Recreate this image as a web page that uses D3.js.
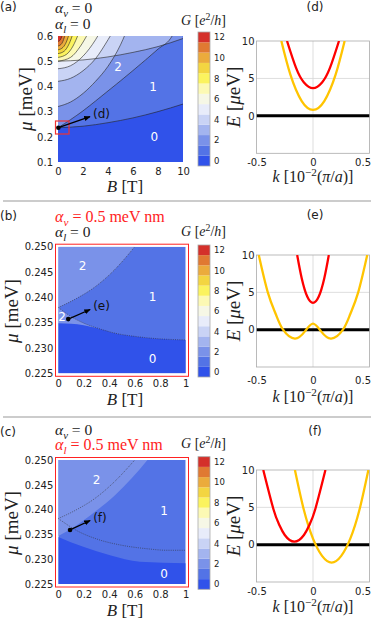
<!DOCTYPE html>
<html>
<head>
<meta charset="utf-8">
<script src="https://cdn.jsdelivr.net/npm/d3@7"></script>
<style>
  body { margin: 0; background: #fff; }
  svg text { font-family: "DejaVu Sans", sans-serif; }
</style>
</head>
<body>
<svg id="fig" width="374" height="620"></svg>
<script>
// ---- data ----

// conductance colour levels 0..12 (e^2/h)
const gLevels = d3.range(0, 13);
const gColors = ['#3052ea', '#5373e6', '#7a92e9', '#a3b4ef', '#c9d3f5', '#e8ecfa', '#f6f7e6',
                 '#fcf9b4', '#fbf35e', '#f3d541', '#ebab3c', '#e07932', '#d4302a'];
const cbTicks = [0, 2, 4, 6, 8, 10, 12];

// panel (a): subband edges mu(B), each one raises G by one when crossed
const aEdges = [
  [[0, 0.236], [2, 0.242], [4, 0.256], [6, 0.275], [8, 0.300], [10, 0.330]],
  [[0, 0.236], [1, 0.268], [2, 0.303], [3, 0.342], [4, 0.382], [5, 0.422], [6, 0.463], [7, 0.505], [8, 0.548], [9, 0.590], [9.25, 0.61]],
  [[0, 0.320], [1, 0.338], [2, 0.372], [3, 0.420], [4, 0.480], [5, 0.565], [5.4, 0.61]],
  [[0, 0.420], [1, 0.432], [2, 0.462], [3, 0.510], [4, 0.585], [4.3, 0.61]],
  [[0, 0.470], [1, 0.482], [2, 0.520], [3, 0.585], [3.3, 0.61]],
  [[0, 0.500], [2, 0.505], [4, 0.517], [6, 0.535], [8, 0.558], [10, 0.590]],
  [[0, 0.500], [1, 0.515], [1.8, 0.560], [2.4, 0.61]],
  [[0, 0.515], [0.7, 0.528], [1.2, 0.560], [1.65, 0.61]],
  [[0, 0.530], [0.5, 0.540], [0.9, 0.570], [1.2, 0.61]],
  [[0, 0.545], [0.4, 0.555], [0.7, 0.580], [0.9, 0.61]],
  [[0, 0.560], [0.3, 0.570], [0.6, 0.61]],
  [[0, 0.578], [0.2, 0.586], [0.38, 0.61]]
];
const aTicksB = [0, 2, 4, 6, 8, 10];
const aTicksMu = [0.1, 0.2, 0.3, 0.4, 0.5, 0.6];
const aLabels = [{ t: '0', B: 7.7, mu: 0.200 }, { t: '1', B: 7.6, mu: 0.400 }, { t: '2', B: 4.8, mu: 0.478 }];
const aArrow = { from: [0.03, 0.236], to: [2.56, 0.280] };

// panels (b), (c): zoom on B in [0,1], mu in [0.225,0.25]
const zTicksB = [0, 0.2, 0.4, 0.6, 0.8, 1];
const zTicksMu = [0.225, 0.230, 0.235, 0.240, 0.245, 0.250];

// (b) alpha_v = 0.5 meV nm
const bUpperEdge = [[0, 0.2380], [0.13, 0.2396], [0.29, 0.2421], [0.44, 0.2454], [0.60, 0.2500]];
const bLowerEdge = [[0, 0.2380], [0.1, 0.2362], [0.2, 0.2349], [0.31, 0.2339], [0.45, 0.2329], [0.63, 0.2322], [0.8, 0.2318], [1, 0.2316]];
const bZeroEdge = [[0, 0.2349], [0.1, 0.2348], [0.2, 0.2345], [0.31, 0.2339], [0.45, 0.2329], [0.63, 0.2322], [0.8, 0.2318], [1, 0.2316]];
const bLabels = [{ t: '2', B: 0.19, mu: 0.2462 }, { t: '1', B: 0.74, mu: 0.2401 }, { t: '0', B: 0.74, mu: 0.2278 }, { t: '2', B: 0.03, mu: 0.2361 }];
const bArrow = { from: [0.078, 0.2357], to: [0.25, 0.2376] };

// (c) alpha_l = 0.5 meV nm
const cUpperEdge = [[0, 0.2382], [0.13, 0.2398], [0.29, 0.2423], [0.44, 0.2456], [0.60, 0.2500]];
const cLowerEdge = [[0, 0.2382], [0.15, 0.2357], [0.31, 0.2340], [0.5, 0.2328], [0.7, 0.2321], [0.85, 0.2318], [1, 0.2318]];
const cTwoEdge = [[0, 0.2347], [0.13, 0.2366], [0.29, 0.2396], [0.445, 0.2429], [0.576, 0.2463], [0.706, 0.2502]];
const cZeroEdge = [[0, 0.2345], [0.196, 0.2325], [0.406, 0.2308], [0.64, 0.2295], [1, 0.2292]];
const cLabels = [{ t: '2', B: 0.30, mu: 0.2460 }, { t: '1', B: 0.83, mu: 0.2398 }, { t: '0', B: 0.83, mu: 0.2270 }];
const cArrow = { from: [0.092, 0.2359], to: [0.25, 0.2378] };

// (d), (e), (f): dispersions E(k), k in 1e-2 pi/a, E in ueV
const kTicks = [-0.5, 0, 0.5];
const eTicks = [0, 5, 10];
const dYellow = [[-0.28, 10], [-0.2, 5.5], [-0.1, 1.97], [0, 0.8], [0.1, 1.97], [0.2, 5.5], [0.28, 10]];
const dRed = [[-0.23, 10], [-0.15, 6.4], [-0.08, 4.45], [0, 3.7], [0.08, 4.45], [0.15, 6.4], [0.23, 10]];
const eYellow = [[-0.48, 10], [-0.40, 5], [-0.33, 2.1], [-0.265, 0], [-0.16, -1.2], [-0.07, -0.2], [0, 0.8],
                 [0.07, -0.2], [0.16, -1.2], [0.265, 0], [0.33, 2.1], [0.40, 5], [0.48, 10]];
const eRed = [[-0.14, 10], [-0.1, 6.9], [-0.05, 4.4], [0, 3.6], [0.05, 4.4], [0.1, 6.9], [0.14, 10]];
const fYellow = [[-0.16, 10], [-0.08, 4.6], [0, 0.8], [0.08, -1.5], [0.165, -2.4], [0.25, -1.5], [0.33, 0.8], [0.41, 4.6], [0.49, 10]];
const fRed = [[-0.44, 10], [-0.35, 4.75], [-0.3, 2.7], [-0.25, 1.3], [-0.165, 0.4], [-0.08, 1.3], [-0.03, 2.7], [0.02, 4.75], [0.11, 10]];

// ---- drawing ----
const svg = d3.select('#fig');
svg.append('rect').attr('width', 374).attr('height', 620).attr('fill', '#fff');
const defs = svg.append('defs');
defs.append('marker')
  .attr('id', 'arr').attr('viewBox', '0 0 10 10').attr('refX', 9).attr('refY', 5)
  .attr('markerWidth', 5).attr('markerHeight', 5).attr('orient', 'auto')
  .append('path').attr('d', 'M0,1L10,5L0,9Z').attr('fill', '#000');

const SERIF = '"Liberation Serif", "DejaVu Serif", serif';

// math-like text built from tspans: kind = r | i, optional sub/sup
function tex(sel, x, y, parts, size, anchor, color) {
  const t = sel.append('text').attr('x', x).attr('y', y)
    .style('font-family', SERIF).attr('font-size', size)
    .attr('text-anchor', anchor || 'start').attr('fill', color || '#222');
  let shift = 0;
  parts.forEach(([s, kind]) => {
    const ts = t.append('tspan').text(s);
    const target = kind.includes('sub') ? size * 0.28 : kind.includes('sup') ? -size * 0.38 : 0;
    ts.attr('dy', target - shift);
    shift = target;
    if (kind.startsWith('i')) ts.attr('font-style', 'italic');
    if (target !== 0) ts.attr('font-size', size * 0.7);
  });
  return t;
}

function panelLabel(x, y, s) {
  svg.append('text').attr('x', x).attr('y', y).attr('font-size', 12).attr('fill', '#222').text(s);
}

function styleAxis(g, size) {
  g.select('.domain').remove();
  g.selectAll('text').style('font-family', '"DejaVu Sans", sans-serif').attr('font-size', size).attr('fill', '#222');
}

function colorbar(x, top, bottom) {
  const cb = d3.scaleLinear().domain([-0.5, 12.5]).range([bottom, top]);
  const g = svg.append('g');
  g.selectAll('rect').data(gLevels).join('rect')
    .attr('x', x).attr('width', 12)
    .attr('y', d => cb(d + 0.5)).attr('height', d => cb(d - 0.5) - cb(d + 0.5))
    .attr('fill', d => gColors[d]);
  g.append('rect').attr('x', x).attr('y', top).attr('width', 12).attr('height', bottom - top)
    .attr('fill', 'none').attr('stroke', '#aaa').attr('stroke-width', 0.8);
  const ax = g.append('g').attr('transform', `translate(${x + 12},0)`)
    .call(d3.axisRight(cb).tickValues(cbTicks).tickSize(0).tickPadding(4));
  styleAxis(ax, 8.5);
}

function gTitle(xEnd, y) {
  tex(svg, xEnd, y, [['G', 'i'], [' [', 'r'], ['e', 'i'], ['2', 'rsup'], ['/', 'r'], ['h', 'i'], [']', 'r']], 14, 'end');
}

function clipRect(id, x0, y0, x1, y1) {
  defs.append('clipPath').attr('id', id).append('rect')
    .attr('x', x0).attr('y', y0).attr('width', x1 - x0).attr('height', y1 - y0);
}

function arrow(g, xs, ys, a, label) {
  g.append('line')
    .attr('x1', xs(a.from[0])).attr('y1', ys(a.from[1]))
    .attr('x2', xs(a.to[0])).attr('y2', ys(a.to[1]))
    .attr('stroke', '#000').attr('stroke-width', 1.3).attr('marker-end', 'url(#arr)');
  g.append('circle').attr('cx', xs(a.from[0])).attr('cy', ys(a.from[1])).attr('r', 2.3).attr('fill', '#000');
  g.append('text').attr('x', xs(a.to[0]) + 3).attr('y', ys(a.to[1]) + 1)
    .attr('font-size', 12).attr('fill', '#111').text(label);
}

function regionLabels(g, xs, ys, labels) {
  g.selectAll(null).data(labels).join('text')
    .attr('x', d => xs(d.B)).attr('y', d => ys(d.mu)).attr('dy', '0.36em')
    .attr('text-anchor', 'middle').attr('font-size', 12).attr('fill', '#fff')
    .text(d => d.t);
}

// ===== panel (a) =====
const xA = d3.scaleLinear().domain([0, 10]).range([58, 183]);
const yA = d3.scaleLinear().domain([0.1, 0.6]).range([162, 36]);
clipRect('clipA', 58, 36, 183, 162);
const gA = svg.append('g');
const fillA = gA.append('g').attr('clip-path', 'url(#clipA)');
const linesA = gA.append('g').attr('clip-path', 'url(#clipA)');
const lineA = d3.line().x(d => xA(d[0])).y(d => yA(d[1])).curve(d3.curveMonotoneX);

// draw the edges, then sample the drawn curves to know mu(B) on a grid
const aSamples = aEdges.map(edge => {
  const node = linesA.append('path').attr('d', lineA(edge))
    .attr('fill', 'none').attr('stroke', '#222').attr('stroke-width', 0.6).node();
  const len = node.getTotalLength();
  const pts = [];
  for (let s = 0; s <= len; s += 0.4) {
    const p = node.getPointAtLength(s);
    pts.push([xA.invert(p.x), yA.invert(p.y)]);
  }
  return pts;
});
const bis = d3.bisector(d => d[0]).left;
function edgeMu(pts, B) {
  if (B < pts[0][0] || B > pts[pts.length - 1][0]) return Infinity;
  const i = bis(pts, B);
  if (i === 0) return pts[0][1];
  const p0 = pts[i - 1], p1 = pts[i];
  const t = (B - p0[0]) / ((p1[0] - p0[0]) || 1);
  return p0[1] + t * (p1[1] - p0[1]);
}
const nx = 250, ny = 250;
const colMu = aSamples.map(pts => d3.range(nx).map(i => edgeMu(pts, (i + 0.5) / nx * 10)));
const gridG = new Array(nx * ny);
for (let j = 0; j < ny; j++) {
  const mu = 0.1 + (j + 0.5) / ny * 0.5;
  for (let i = 0; i < nx; i++) {
    let n = 0;
    colMu.forEach(c => { if (c[i] < mu) n++; });
    gridG[j * nx + i] = n;
  }
}
const gridPath = d3.geoPath(d3.geoTransform({
  point: function (x, y) { this.stream.point(xA(x / nx * 10), yA(0.1 + y / ny * 0.5)); }
}));
fillA.append('rect').attr('x', 58).attr('y', 36).attr('width', 125).attr('height', 126).attr('fill', gColors[0]);
const contA = d3.contours().size([nx, ny]).thresholds(d3.range(0.5, 12.5, 1))(gridG);
fillA.selectAll('path').data(contA).join('path')
  .attr('d', gridPath).attr('fill', (d, i) => gColors[i + 1]);

regionLabels(gA, xA, yA, aLabels);
gA.append('rect').attr('x', 55.5).attr('y', 121).attr('width', 13.5).attr('height', 13)
  .attr('fill', 'none').attr('stroke', '#e33').attr('stroke-width', 1.2);
arrow(gA, xA, yA, aArrow, '(d)');
styleAxis(gA.append('g').attr('transform', 'translate(0,162)')
  .call(d3.axisBottom(xA).tickValues(aTicksB).tickFormat(d3.format('d')).tickSize(0).tickPadding(5.5)), 10);
styleAxis(gA.append('g').attr('transform', 'translate(58,0)')
  .call(d3.axisLeft(yA).tickValues(aTicksMu).tickFormat(d3.format('.1f')).tickSize(0).tickPadding(5)), 10);
tex(svg, 125, 192, [['B', 'i'], [' [T]', 'r']], 17, 'middle');
tex(svg.append('g').attr('transform', 'translate(32,99) rotate(-90)'), 0, 0, [['μ', 'i'], [' [meV]', 'r']], 19, 'middle');
panelLabel(0, 11, '(a)');
tex(svg, 55, 13, [['α', 'i'], ['v', 'isub'], [' = 0', 'r']], 15.5);
tex(svg, 55, 28.5, [['α', 'i'], ['l', 'isub'], [' = 0', 'r']], 15.5);
gTitle(226, 25);
colorbar(198, 32, 166);

// ===== panels (b) and (c) =====
function zoomPanel(opt) {
  const xs = d3.scaleLinear().domain([0, 1]).range([58.3, 185.7]);
  const ys = d3.scaleLinear().domain([0.225, 0.25]).range([opt.y0, opt.y1]);
  const id = 'clip' + opt.name;
  clipRect(id, 58.3, opt.y1, 185.7, opt.y0);
  const g = svg.append('g');
  const fill = g.append('g').attr('clip-path', `url(#${id})`);
  const line = d3.line().x(d => xs(d[0])).y(d => ys(d[1])).curve(d3.curveMonotoneX);
  fill.append('rect').attr('x', 58.3).attr('y', opt.y1).attr('width', 127.4).attr('height', opt.y0 - opt.y1)
    .attr('fill', gColors[1]);
  opt.regions.forEach(r => {
    fill.append('path').attr('d', line(r.edge) + r.close.map(p => `L${xs(p[0])},${ys(p[1])}`).join('') + 'Z')
      .attr('fill', gColors[r.level]);
  });
  opt.dotted.forEach(e => {
    fill.append('path').attr('d', line(e)).attr('fill', 'none')
      .attr('stroke', '#333').attr('stroke-width', 0.6).attr('stroke-dasharray', '1,1.2');
  });
  regionLabels(g, xs, ys, opt.labels);
  arrow(g, xs, ys, opt.arrow, opt.arrowLabel);
  g.append('rect').attr('x', 55.5).attr('y', opt.y1 - 2.5).attr('width', 133).attr('height', opt.y0 - opt.y1 + 5.5)
    .attr('fill', 'none').attr('stroke', '#f22').attr('stroke-width', 1);
  styleAxis(g.append('g').attr('transform', `translate(0,${opt.y0})`)
    .call(d3.axisBottom(xs).tickValues(zTicksB).tickFormat(d => (d === 0 || d === 1) ? d : d.toFixed(1))
      .tickSize(0).tickPadding(opt.xPad)), 10);
  styleAxis(g.append('g').attr('transform', 'translate(58.3,0)')
    .call(d3.axisLeft(ys).tickValues(zTicksMu).tickFormat(d3.format('.3f')).tickSize(0).tickPadding(5)), 10);
  tex(svg, 125, opt.bLabelY, [['B', 'i'], [' [T]', 'r']], 17, 'middle');
  tex(svg.append('g').attr('transform', `translate(18,${(opt.y0 + opt.y1) / 2 + 1}) rotate(-90)`), 0, 0,
    [['μ', 'i'], [' [meV]', 'r']], 19, 'middle');
}

panelLabel(0, 220, '(b)');
tex(svg, 55, 221.5, [['α', 'i'], ['v', 'isub'], [' = 0.5 meV nm', 'r']], 16, 'start', '#f22');
tex(svg, 55, 237, [['α', 'i'], ['l', 'isub'], [' = 0', 'r']], 15.5);
gTitle(226, 236);
zoomPanel({
  name: 'B', y0: 373.3, y1: 246.7, xPad: 7, bLabelY: 405,
  regions: [
    { edge: bUpperEdge, close: [[0, 0.25]], level: 2 },
    { edge: bLowerEdge, close: [[1, 0.225], [0, 0.225]], level: 2 },
    { edge: bZeroEdge, close: [[1, 0.225], [0, 0.225]], level: 0 }
  ],
  dotted: [bUpperEdge, bLowerEdge],
  labels: bLabels, arrow: bArrow, arrowLabel: '(e)'
});
colorbar(198, 245, 377);

panelLabel(0, 436, '(c)');
tex(svg, 55, 435, [['α', 'i'], ['v', 'isub'], [' = 0', 'r']], 15.5);
tex(svg, 55, 450, [['α', 'i'], ['l', 'isub'], [' = 0.5 meV nm', 'r']], 16, 'start', '#f22');
gTitle(226, 448);
zoomPanel({
  name: 'C', y0: 584, y1: 460, xPad: 7, bLabelY: 616,
  regions: [
    { edge: cTwoEdge, close: [[0, 0.25]], level: 2 },
    { edge: cZeroEdge, close: [[1, 0.225], [0, 0.225]], level: 0 }
  ],
  dotted: [cUpperEdge, cLowerEdge],
  labels: cLabels, arrow: cArrow, arrowLabel: '(f)'
});
colorbar(198, 456.7, 589.3);

// ===== panels (d), (e), (f) =====
function bandPanel(opt) {
  const xs = d3.scaleLinear().domain([-0.5, 0.5]).range([256.5, 369.5]);
  const ys = d3.scaleLinear().domain([-5, 10]).range([opt.y0, opt.y1]);
  const id = 'clip' + opt.name;
  clipRect(id, 256.5, opt.y1, 369.5, opt.y0);
  const g = svg.append('g');
  const grid = g.append('g');
  grid.selectAll(null).data([0]).join('line')
    .attr('x1', d => xs(d)).attr('x2', d => xs(d)).attr('y1', opt.y1).attr('y2', opt.y0)
    .attr('stroke', '#d4d4d4').attr('stroke-width', 0.8);
  grid.selectAll(null).data([5]).join('line')
    .attr('y1', d => ys(d)).attr('y2', d => ys(d)).attr('x1', 256.5).attr('x2', 369.5)
    .attr('stroke', '#d4d4d4').attr('stroke-width', 0.8);
  g.append('rect').attr('x', 256.5).attr('y', opt.y1).attr('width', 113).attr('height', opt.y0 - opt.y1)
    .attr('fill', 'none').attr('stroke', '#aaa').attr('stroke-width', 0.8);
  const plot = g.append('g').attr('clip-path', `url(#${id})`);
  const line = d3.line().x(d => xs(d[0])).y(d => ys(d[1])).curve(d3.curveNatural);
  plot.append('line').attr('x1', xs(-0.5)).attr('x2', xs(0.5)).attr('y1', ys(0)).attr('y2', ys(0))
    .attr('stroke', '#000').attr('stroke-width', 3);
  plot.append('path').attr('d', line(opt.yellow)).attr('fill', 'none').attr('stroke', '#ffc400').attr('stroke-width', 2.3);
  plot.append('path').attr('d', line(opt.red)).attr('fill', 'none').attr('stroke', '#f00').attr('stroke-width', 2.3);
  const xa = g.append('g').attr('transform', `translate(0,${opt.y0})`)
    .call(d3.axisBottom(xs).tickValues(kTicks).tickFormat(d => d === 0 ? '0' : d.toFixed(1)).tickSize(0).tickPadding(opt.xPad));
  styleAxis(xa, 10);
  // the right-most label sits inside the figure edge
  xa.selectAll('.tick').filter(d => d === 0.5).select('text').attr('text-anchor', 'end').attr('x', 1);
  styleAxis(g.append('g').attr('transform', 'translate(256.5,0)')
    .call(d3.axisLeft(ys).tickValues(eTicks).tickFormat(d3.format('d')).tickSize(0).tickPadding(2)), 10);
  svg.append('text').attr('x', 315).attr('y', opt.titleY).attr('text-anchor', 'middle')
    .attr('font-size', 12).attr('fill', '#222').text(opt.title);
  tex(svg, 313, opt.kLabelY, [['k', 'i'], [' [10', 'r'], ['−2', 'rsup'], ['(', 'r'], ['π', 'i'], ['/', 'r'], ['a', 'i'], [')]', 'r']], 16, 'middle');
  tex(svg.append('g').attr('transform', `translate(240,${(opt.y0 + opt.y1) / 2}) rotate(-90)`), 0, 0,
    [['E', 'i'], [' [', 'r'], ['μ', 'i'], ['eV]', 'r']], 19, 'middle');
}

bandPanel({ name: 'D', y0: 153.3, y1: 41, xPad: 5.5, titleY: 11, kLabelY: 182, title: '(d)', yellow: dYellow, red: dRed });
bandPanel({ name: 'E', y0: 367, y1: 255, xPad: 9.5, titleY: 219, kLabelY: 402, title: '(e)', yellow: eYellow, red: eRed });
bandPanel({ name: 'F', y0: 582, y1: 470, xPad: 6, titleY: 435, kLabelY: 612, title: '(f)', yellow: fYellow, red: fRed });

// separators between the rows
svg.selectAll('line.sep').data([201, 417]).join('line').attr('class', 'sep')
  .attr('x1', 3).attr('x2', 371).attr('y1', d => d).attr('y2', d => d)
  .attr('stroke', '#999').attr('stroke-width', 1);
</script>
</body>
</html>
